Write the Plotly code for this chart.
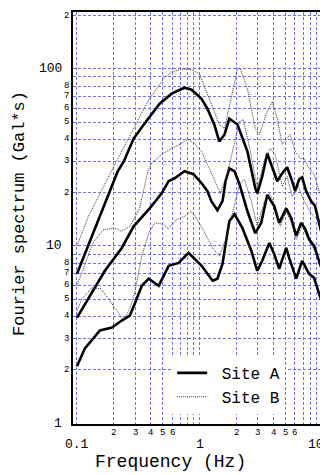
import plotly.graph_objects as go
import numpy as np

# ---------------- data ----------------
# Site A (thick solid), three spectra
a1_f = [0.1, 0.1455, 0.215, 0.241, 0.29, 0.351, 0.473, 0.592, 0.687, 0.755, 0.861, 1.04, 1.16, 1.32, 1.45,
        1.60, 1.75, 2.04, 2.46, 2.85, 2.96, 3.25, 3.57, 3.92, 4.31, 4.73, 5.19, 5.70, 6.03, 6.50, 6.88,
        7.41, 8.14, 8.77, 9.81]
a1_v = [6.96, 13.5, 26.4, 30.0, 40.4, 48.5, 63.6, 72.4, 76.2, 78.2, 76.2, 67.8, 59.6, 48.5, 38.9,
        42.6, 52.4, 48.5, 34.2, 21.2, 19.8, 24.7, 33.3, 28.1, 23.2, 25.7, 27.8, 23.2, 20.4, 23.8, 24.4,
        20.4, 17.9, 16.8, 12.1]

a2_f = [0.1, 0.1325, 0.169, 0.232, 0.29, 0.392, 0.491, 0.56, 0.627, 0.755, 0.893, 1.04, 1.16, 1.25, 1.40,
        1.54, 1.63, 1.75, 1.93, 2.12, 2.46, 2.85, 3.19, 3.57, 4.07, 4.47, 5.10, 5.60, 6.15, 6.75, 7.28,
        7.84, 8.61, 9.81]
a2_v = [3.94, 5.44, 7.24, 9.74, 12.9, 16.3, 19.8, 23.2, 24.1, 26.4, 25.4, 22.6, 20.4, 17.9, 15.9,
        17.9, 23.2, 27.4, 26.4, 22.3, 15.7, 11.8, 13.5, 19.4, 16.8, 13.5, 16.3, 14.4, 11.4, 13.5, 12.5,
        10.9, 10.0, 7.62]

a3_f = [0.1, 0.116, 0.154, 0.193, 0.232, 0.27, 0.296, 0.338, 0.385, 0.464, 0.56, 0.675, 0.814, 0.893, 1.04,
        1.28, 1.40, 1.54, 1.75, 1.93, 2.24, 2.65, 2.96, 3.25, 3.71, 4.07, 4.47, 5.10, 5.39, 6.15, 6.88,
        7.84, 8.61, 9.46, 10.0]
a3_v = [2.09, 2.64, 3.33, 3.46, 3.79, 4.04, 4.72, 5.96, 6.53, 5.96, 7.72, 8.02, 9.14, 8.56, 7.72,
        6.36, 6.53, 7.92, 13.8, 15.1, 12.6, 9.37, 7.24, 8.24, 10.4, 9.02, 7.43, 9.74, 8.56, 6.53, 8.24,
        6.96, 6.61, 5.38, 4.78]

# Site B (thin dotted), three spectra
b1_f = [0.1, 0.124, 0.204, 0.28, 0.385, 0.509, 0.592, 0.741, 0.861, 1.0, 1.16, 1.45, 1.60, 1.79, 2.04,
        2.15, 2.46, 2.85, 3.08, 3.57, 3.92, 4.31, 4.73, 5.19, 5.49, 6.03, 6.63, 7.14, 7.84, 8.61, 9.46, 10.0]
b1_v = [10.0, 14.7, 28.9, 44.3, 66.9, 87.9, 96.2, 100, 98.7, 93.7, 71.4, 48.5, 46.0, 65.3, 100,
        100, 77.2, 46.0, 42.6, 57.3, 65.3, 52.4, 37.4, 40.4, 42.6, 34.2, 31.2, 31.2, 27.4, 25.4, 20.4, 17.9]

b2_f = [0.1, 0.116, 0.135, 0.163, 0.204, 0.232, 0.27, 0.325, 0.378, 0.407, 0.491, 0.592, 0.714, 0.814, 0.911,
        1.04, 1.16, 1.40, 1.48, 1.69, 1.93, 2.12, 2.28, 2.60, 2.96, 3.44, 3.78, 4.15, 4.73, 5.19, 5.70,
        6.38, 7.14, 8.14, 9.1, 10.0]
b2_v = [5.96, 7.92, 10.4, 12.3, 12.6, 12.1, 12.9, 16.3, 26.4, 29.3, 32.9, 35.5, 37.9, 39.9, 37.9,
        34.2, 28.9, 21.2, 19.8, 25.7, 38.9, 50.4, 51.7, 34.2, 21.2, 31.2, 35.5, 32.9, 21.7, 24.7, 19.1,
        21.7, 17.9, 15.3, 14.2, 12.5]

b3_f = [0.1, 0.11, 0.1325, 0.157, 0.185, 0.211, 0.232, 0.245, 0.27, 0.296, 0.338, 0.385, 0.431, 0.491, 0.56,
        0.638, 0.755, 0.845, 0.911, 1.06, 1.28, 1.45, 1.66, 1.85, 2.12, 2.32, 2.65, 2.96, 3.38, 3.71, 4.15,
        4.56, 5.10, 5.60, 6.15, 6.88, 7.84, 8.77, 10.0]
b3_v = [4.31, 5.04, 5.81, 5.73, 4.91, 4.31, 3.94, 3.89, 4.43, 5.44, 8.79, 11.8, 13.5, 13.3, 12.5,
        14.0, 14.7, 15.7, 14.9, 12.5, 9.74, 8.79, 11.1, 15.1, 22.3, 23.8, 17.9, 12.9, 17.9, 19.8, 16.8,
        12.9, 15.7, 13.5, 10.9, 12.9, 10.6, 9.37, 7.72]

x_minor_labels = {0.2: "2", 0.3: "3", 0.4: "4", 0.5: "5", 0.6: "6",
                  2: "2", 3: "3", 4: "4", 5: "5", 6: "6"}
x_major_labels = {0.1: "0.1", 1: "1", 10: "10"}
y_minor_labels = {2: "2", 3: "3", 4: "4", 5: "5", 6: "6", 7: "7", 8: "8",
                  20: "2", 30: "3", 40: "4", 50: "5", 60: "6", 70: "7", 80: "8", 200: "2"}
y_major_labels = {1: "1", 10: "10", 100: "100"}

x_title = "Frequency (Hz)"
y_title = "Fourier spectrum (Gal*s)"

# ---------------- figure ----------------
MONO = "Liberation Mono, DejaVu Sans Mono, monospace"
fig = go.Figure()

solid = dict(color="black", width=2.6)
dotted = dict(color="#3a3a3a", width=1, dash="1px,1px")

fig.add_trace(go.Scatter(x=a1_f, y=a1_v, mode="lines", line=solid, name="\u00a0Site A", legendgroup="A"))
fig.add_trace(go.Scatter(x=a2_f, y=a2_v, mode="lines", line=solid, name="Site A", legendgroup="A", showlegend=False))
fig.add_trace(go.Scatter(x=a3_f, y=a3_v, mode="lines", line=solid, name="Site A", legendgroup="A", showlegend=False))
fig.add_trace(go.Scatter(x=b1_f, y=b1_v, mode="lines", line=dotted, name="\u00a0Site B", legendgroup="B"))
fig.add_trace(go.Scatter(x=b2_f, y=b2_v, mode="lines", line=dotted, name="Site B", legendgroup="B", showlegend=False))
fig.add_trace(go.Scatter(x=b3_f, y=b3_v, mode="lines", line=dotted, name="Site B", legendgroup="B", showlegend=False))

x_grid = [m * 10.0 ** e for e in (-1, 0) for m in range(1, 10)] + [10]
y_grid = [m * 10.0 ** e for e in (0, 1) for m in range(1, 10)] + [100, 200]

grid_col = "rgb(110,110,255)"
fig.update_xaxes(type="log", range=[-1.0325, 1.016], tickvals=x_grid, showticklabels=False,
                 showgrid=True, gridcolor=grid_col, gridwidth=1, griddash="3px,2px",
                 showline=True, linecolor="black", linewidth=1.5, mirror=True, ticks="", zeroline=False)
fig.update_yaxes(type="log", range=[-0.0056, 2.321], tickvals=y_grid, showticklabels=False,
                 showgrid=True, gridcolor=grid_col, gridwidth=1, griddash="3px,2px",
                 showline=True, linecolor="black", linewidth=1.5, mirror=True, ticks="", zeroline=False)

ann = []
for v, t in x_minor_labels.items():
    ann.append(dict(x=np.log10(v), y=0, xref="x", yref="paper", text=t, showarrow=False,
                    xanchor="center", yanchor="middle", yshift=-9,
                    font=dict(family=MONO, size=9, color="black")))
for v, t in x_major_labels.items():
    right_edge = v == 10
    ann.append(dict(x=np.log10(v), y=0, xref="x", yref="paper", text=t, showarrow=False,
                    xanchor="right" if right_edge else "center", xshift=4 if right_edge else 0,
                    yanchor="middle", yshift=-20,
                    font=dict(family=MONO, size=13, color="black")))
for v, t in y_minor_labels.items():
    ann.append(dict(x=0, y=np.log10(v), xref="paper", yref="y", text=t, showarrow=False,
                    xanchor="right", yanchor="middle", xshift=-2,
                    font=dict(family=MONO, size=9, color="black")))
for v, t in y_major_labels.items():
    ann.append(dict(x=0, y=np.log10(v), xref="paper", yref="y", text=t, showarrow=False,
                    xanchor="right", yanchor="middle", xshift=-9,
                    font=dict(family=MONO, size=13, color="black")))
ann.append(dict(x=0.39, y=0, xref="paper", yref="paper", text=x_title, showarrow=False,
                xanchor="center", yanchor="middle", yshift=-38,
                font=dict(family=MONO, size=18, color="black")))
ann.append(dict(x=0, y=0.51, xref="paper", yref="paper", text=y_title, showarrow=False,
                xanchor="center", yanchor="middle", xshift=-53, textangle=-90,
                font=dict(family=MONO, size=17, color="black")))

# the page adds an 8px body margin, so the figure is 8px smaller than the window
fig.update_layout(
    width=320, height=467,
    margin=dict(l=65, r=4, t=2, b=51),
    paper_bgcolor="white", plot_bgcolor="white",
    annotations=ann,
    showlegend=True,
    legend=dict(x=0.395, y=0.165, xanchor="left", yanchor="top", bgcolor="white",
                borderwidth=0, font=dict(family=MONO, size=16, color="black"),
                tracegroupgap=0, itemwidth=30),
)

fig.write_html("out.html")
